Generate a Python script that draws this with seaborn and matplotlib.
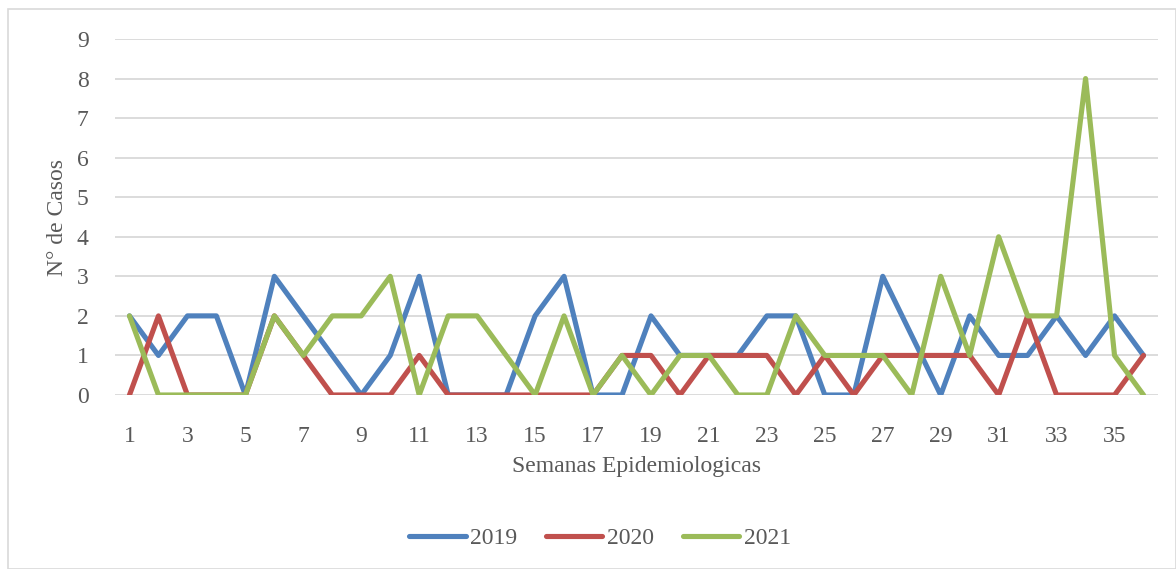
import matplotlib
matplotlib.use("Agg")
import matplotlib.pyplot as plt
import seaborn as sns
import pandas as pd
from matplotlib.patches import Rectangle
from matplotlib.lines import Line2D

weeks = list(range(1, 37))
cases_2019 = [2, 1, 2, 2, 0, 3, 2, 1, 0, 1, 3, 0, 0, 0, 2, 3, 0, 0, 2, 1, 1, 1, 2, 2, 0, 0, 3, 1.5, 0, 2, 1, 1, 2, 1, 2, 1]
cases_2020 = [0, 2, 0, 0, 0, 2, 1, 0, 0, 0, 1, 0, 0, 0, 0, 0, 0, 1, 1, 0, 1, 1, 1, 0, 1, 0, 1, 1, 1, 1, 0, 2, 0, 0, 0, 1]
cases_2021 = [2, 0, 0, 0, 0, 2, 1, 2, 2, 3, 0, 2, 2, 1, 0, 2, 0, 1, 0, 1, 1, 0, 0, 2, 1, 1, 1, 0, 3, 1, 4, 2, 2, 8, 1, 0]
years = ["2019", "2020", "2021"]
colors = ["#4F81BD", "#C0504D", "#9BBB59"]
xtick_labels = list(range(1, 37, 2))

df = pd.concat([
    pd.DataFrame({"Semana": weeks, "Casos": vals, "Año": y})
    for y, vals in zip(years, [cases_2019, cases_2020, cases_2021])
])

sns.set_theme(style="white")
plt.rcParams["font.family"] = ["Liberation Serif", "DejaVu Serif"]
text_color = "#595959"
fs = 17

fig = plt.figure(figsize=(11.76, 5.69), dpi=100)
fig.patches.append(Rectangle((8/1176, 0), 1 - 8/1176, 1 - 9/569, transform=fig.transFigure,
                             fill=False, edgecolor="#D9D9D9", linewidth=1.2))
ax = fig.add_axes([115/1176, 1 - 395/569, (1158 - 115)/1176, (395 - 39)/569])

sns.lineplot(data=df, x="Semana", y="Casos", hue="Año", palette=colors, ax=ax,
             linewidth=3.7, legend=False, solid_joinstyle="round", solid_capstyle="round",
             zorder=3)

ax.set_xlim(0.5, 36.5)
ax.set_ylim(0, 9)
ax.set_yticks(range(0, 10))
ax.set_xticks(xtick_labels)
ax.set_xticklabels([str(v) for v in xtick_labels])
ax.grid(axis="y", color="#D9D9D9", linewidth=1.3, zorder=0)
ax.grid(axis="x", visible=False)
for s in ax.spines.values():
    s.set_visible(False)
ax.tick_params(axis="both", length=0, labelsize=fs, labelcolor=text_color)
ax.tick_params(axis="y", pad=19)
ax.tick_params(axis="x", pad=22)
ax.set_xlabel("Semanas Epidemiologicas", fontsize=fs, color=text_color, labelpad=7)
ax.set_ylabel("N° de Casos", fontsize=fs, color=text_color, labelpad=6)

handles = [Line2D([0], [0], color=c, linewidth=3.7, solid_capstyle="round") for c in colors]
fig.legend(handles, years, loc="center", bbox_to_anchor=(600/1176, 1 - 538/569), ncol=3,
           frameon=False, fontsize=fs, labelcolor=text_color, handlelength=2.4,
           handletextpad=0.2, columnspacing=1.2)

fig.savefig("out.png", dpi=100)
